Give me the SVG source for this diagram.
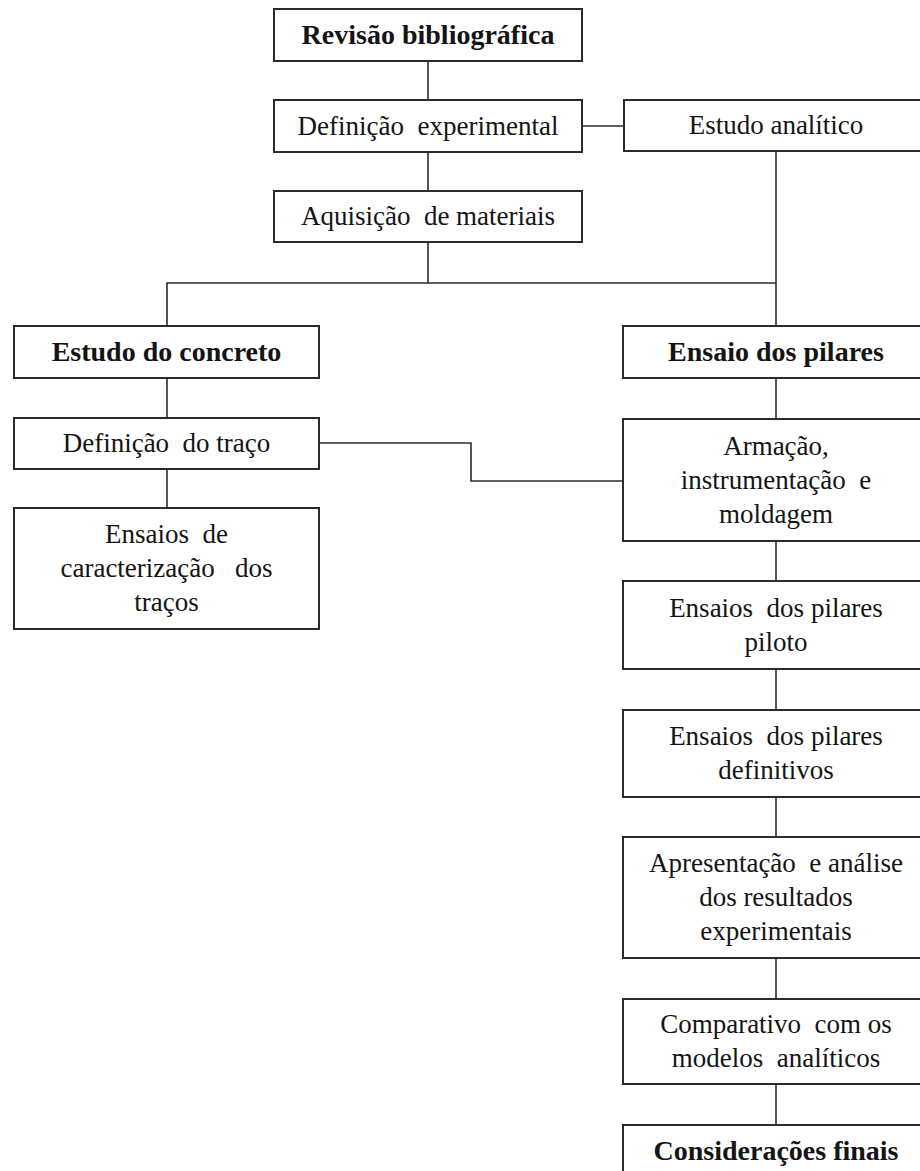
<svg xmlns="http://www.w3.org/2000/svg" width="920" height="1171" viewBox="0 0 920 1171">
  <style>
    .box { fill: #ffffff; stroke: #2b2b2b; stroke-width: 2; }
    .conn { fill: none; stroke: #2b2b2b; stroke-width: 1.6; }
    text { font-family: "Liberation Serif", "Times New Roman", serif; font-size: 27px; fill: #141414; text-anchor: middle; white-space: pre; }
    .b { font-weight: bold; font-size: 28px; }
  </style>
  <rect x="0" y="0" width="920" height="1171" fill="#ffffff"/>

  <g id="connectors">
    <line class="conn" x1="428" y1="61" x2="428" y2="100"/>
    <line class="conn" x1="428" y1="152" x2="428" y2="191"/>
    <line class="conn" x1="582" y1="126" x2="624" y2="126"/>
    <line class="conn" x1="428" y1="242" x2="428" y2="283"/>
    <polyline class="conn" points="167,326 167,283 776,283"/>
    <line class="conn" x1="776" y1="151" x2="776" y2="326"/>
    <line class="conn" x1="167" y1="378" x2="167" y2="418"/>
    <line class="conn" x1="167" y1="469" x2="167" y2="508"/>
    <polyline class="conn" points="319,443 471,443 471,481 623,481"/>
    <line class="conn" x1="776" y1="378" x2="776" y2="419"/>
    <line class="conn" x1="776" y1="541" x2="776" y2="581"/>
    <line class="conn" x1="776" y1="669" x2="776" y2="710"/>
    <line class="conn" x1="776" y1="797" x2="776" y2="837"/>
    <line class="conn" x1="776" y1="958" x2="776" y2="999"/>
    <line class="conn" x1="776" y1="1084" x2="776" y2="1125"/>
  </g>

  <g id="revisao">
    <rect class="box" x="274" y="9" width="308" height="52"/>
    <text class="b" x="428" y="44">Revisão bibliográfica</text>
  </g>
  <g id="definicao-experimental">
    <rect class="box" x="274" y="100" width="308" height="52"/>
    <text x="428" y="135">Definição  experimental</text>
  </g>
  <g id="estudo-analitico">
    <rect class="box" x="624" y="100" width="306" height="51"/>
    <text x="776" y="134">Estudo analítico</text>
  </g>
  <g id="aquisicao">
    <rect class="box" x="274" y="191" width="308" height="51"/>
    <text x="428" y="225">Aquisição  de materiais</text>
  </g>
  <g id="estudo-concreto">
    <rect class="box" x="14" y="326" width="305" height="52"/>
    <text class="b" x="166.5" y="361">Estudo do concreto</text>
  </g>
  <g id="definicao-traco">
    <rect class="box" x="14" y="418" width="305" height="51"/>
    <text x="166.5" y="452">Definição  do traço</text>
  </g>
  <g id="ensaios-caracterizacao">
    <rect class="box" x="14" y="508" width="305" height="121"/>
    <text x="166.5" y="543">Ensaios  de</text>
    <text x="166.5" y="577">caracterização   dos</text>
    <text x="166.5" y="611">traços</text>
  </g>
  <g id="ensaio-pilares">
    <rect class="box" x="623" y="326" width="306" height="52"/>
    <text class="b" x="776" y="361">Ensaio dos pilares</text>
  </g>
  <g id="armacao">
    <rect class="box" x="623" y="419" width="306" height="122"/>
    <text x="776" y="455">Armação,</text>
    <text x="776" y="489">instrumentação  e</text>
    <text x="776" y="523">moldagem</text>
  </g>
  <g id="pilares-piloto">
    <rect class="box" x="623" y="581" width="306" height="88"/>
    <text x="776" y="617">Ensaios  dos pilares</text>
    <text x="776" y="651">piloto</text>
  </g>
  <g id="pilares-definitivos">
    <rect class="box" x="623" y="710" width="306" height="87"/>
    <text x="776" y="745">Ensaios  dos pilares</text>
    <text x="776" y="779">definitivos</text>
  </g>
  <g id="apresentacao">
    <rect class="box" x="623" y="837" width="306" height="121"/>
    <text x="776" y="872">Apresentação  e análise</text>
    <text x="776" y="906">dos resultados</text>
    <text x="776" y="940">experimentais</text>
  </g>
  <g id="comparativo">
    <rect class="box" x="623" y="999" width="306" height="85"/>
    <text x="776" y="1033">Comparativo  com os</text>
    <text x="776" y="1067">modelos  analíticos</text>
  </g>
  <g id="consideracoes">
    <rect class="box" x="623" y="1125" width="306" height="60"/>
    <text class="b" x="776" y="1160">Considerações finais</text>
  </g>
</svg>
